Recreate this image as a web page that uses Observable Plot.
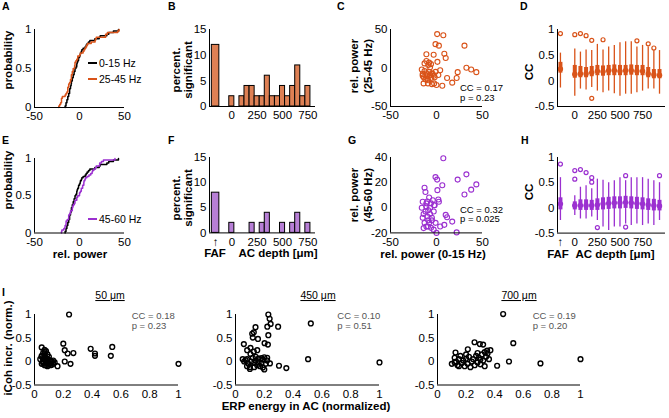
<!DOCTYPE html>
<html><head><meta charset="utf-8">
<script src="https://cdn.jsdelivr.net/npm/d3@7"></script>
<script src="https://cdn.jsdelivr.net/npm/@observablehq/plot@0.6"></script>
<style>
body{margin:0;background:#fff;}
#fig{position:relative;width:669px;height:418px;overflow:hidden;background:#fff;}
#fig svg{position:absolute;}
</style></head><body><div id="fig"></div>
<script>
// ---------------- DATA ----------------
// relative power per site: 0-15 Hz (x of C and G), 25-45 Hz (y of C), 45-60 Hz (y of G)
const powLow  = [0.7,7.4,-1.1,2.6,30.4,-11,-3.1,8.5,10,32.5,37.7,43.3,23,11.5,21.9,17.1,
  -14,-9.3,-2.6,0,6.3,-5,
  -16,-15,-15,-14,-13,-13,-12,-12,-11,-11,-10,-10,-9,-9,-8,-8,-7,-7,-6,-6,-5,-4,-3,-2,-1,1,2,4];
const pow25_45 = [44,42.5,31,29,29,17.8,17.3,18.6,13,0.3,-1.9,-5.4,-5.4,-13,-13,-19,
  -20,-20,-20,-22,-23,-21,
  -2,-10,-8,-12,6,-4,-9,-15,-7,9,-14,-11,4,-16,-5,7,-9,1,-13,5,-7,-8,-10,-12,-5,8,-9,-3];
const pow45_60 = [22.4,39.4,24.4,4.8,10.5,3.5,-17.4,-13.6,-5.7,26.6,14.4,18.6,22.4,-7.5,-19.6,-11,
  -16.2,-14.9,2,-20,17.9,-10,
  0,4.8,-8,-5,15.9,-12,12.5,-3,-15,1,-7,5,-10,-2,8.2,-12,0,-5,-16,3.5,-8,6,-3,2,-12,14,6.6,-14.9];

// percent significant per site (FAF, then AC depths)
const depths = [0,50,100,150,200,250,300,350,400,450,500,550,600,650,700,750];
const sigFAF_25_45 = 12;
const sig25_45 = [2,0,2,4,4,2,2,6,2,2,4,2,4,8,2,4];
const sigFAF_45_60 = 8;
const sig45_60 = [2,0,0,0,2,0,2,4,0,0,2,0,2,4,0,2];

// CC box statistics per site: FAF then 16 depths
const boxSites = ["FAF",0,50,100,150,200,250,300,350,400,450,500,550,600,650,700,750];
const ccD_med = [0.23,0.13,0.14,0.14,0.16,0.19,0.18,0.20,0.20,0.19,0.20,0.20,0.19,0.19,0.14,0.12,0.11];
const ccD_q1  = [0.15,0.05,0.06,0.06,0.08,0.10,0.09,0.10,0.10,0.10,0.10,0.11,0.10,0.10,0.06,0.04,0.04];
const ccD_q3  = [0.36,0.30,0.28,0.26,0.28,0.30,0.29,0.30,0.31,0.30,0.30,0.31,0.30,0.30,0.26,0.22,0.22];
const ccD_lo  = [-0.14,-0.30,-0.16,-0.18,-0.13,-0.20,-0.23,-0.20,-0.25,-0.30,-0.26,-0.26,-0.23,-0.20,-0.16,-0.16,-0.26];
const ccD_hi  = [0.54,0.62,0.56,0.60,0.59,0.71,0.60,0.66,0.69,0.74,0.76,0.76,0.66,0.69,0.66,0.59,0.59];
const ccD_outSite = ["FAF",0,50,100,150,150,250,550,650,700];
const ccD_outVal  = [0.92,0.90,0.92,0.88,0.79,-0.34,0.80,0.78,0.72,0.64];

const ccH_med = [0.08,0.05,0.05,0.05,0.05,0.06,0.08,0.09,0.10,0.10,0.11,0.10,0.09,0.08,0.06,0.05,0.04];
const ccH_q1  = [-0.04,-0.04,-0.05,-0.05,-0.05,-0.05,-0.04,-0.03,-0.02,-0.02,-0.01,-0.02,-0.03,-0.04,-0.05,-0.06,-0.06];
const ccH_q3  = [0.20,0.12,0.16,0.16,0.15,0.18,0.20,0.21,0.22,0.22,0.23,0.22,0.21,0.20,0.18,0.17,0.15];
const ccH_lo  = [-0.25,-0.15,-0.22,-0.22,-0.18,-0.25,-0.38,-0.45,-0.38,-0.38,-0.32,-0.35,-0.32,-0.35,-0.32,-0.35,-0.25];
const ccH_hi  = [0.60,0.24,0.41,0.44,0.38,0.57,0.55,0.50,0.54,0.60,0.54,0.60,0.60,0.60,0.57,0.54,0.50];
const ccH_outSite = ["FAF",0,0,50,100,150,150,200,450,450,750];
const ccH_outVal  = [0.87,0.74,0.57,0.76,0.70,0.60,0.51,-0.39,0.64,-0.38,0.64];

// Panel I: ERP energy (normalized) vs iCoh increase (normalized)
const erp50  = [0.24,0.20,0.21,0.23,0.27,0.21,0.25,0.39,0.42,0.42,0.53,0.54,1.00,
  0.05,0.06,0.07,0.08,0.05,0.06,0.04,0.05,0.07,0.08,0.09,0.10,0.11,0.12,0.13,0.16,0.07,0.09,0.10,0.06,0.08,0.12,0.09,0.06,0.10,0.07,0.11,0.05,0.08,0.13,0.14,0.07,0.09];
const coh50  = [1.00,0.38,0.24,0.17,0.18,0.00,-0.05,0.27,0.17,0.12,0.12,0.31,-0.05,
  0.30,0.18,0.20,0.22,0.10,0.05,0.05,-0.05,-0.08,0.00,0.05,-0.05,0.02,0.00,-0.05,-0.10,0.12,0.15,0.10,-0.03,-0.08,-0.07,-0.10,0.00,0.03,0.05,-0.08,0.12,0.08,0.02,-0.02,0.25,-0.03];
const erp450 = [0.228,0.237,0.244,0.221,0.296,0.139,0.127,0.116,0.12,0.156,0.228,0.202,0.225,0.058,0.081,0.104,0.127,0.151,0.104,0.523,0.504,1.00,0.302,0.353,0.239,
  0.05,0.07,0.08,0.09,0.10,0.10,0.11,0.12,0.13,0.14,0.15,0.16,0.16,0.17,0.18,0.19,0.19,0.20,0.21,0.22,0.20,0.13,0.08,0.06,0.14,0.18,0.22];
const coh450 = [1.00,0.91,0.80,0.74,0.74,0.73,0.62,0.59,0.51,0.48,0.56,0.39,0.36,0.37,0.24,0.29,0.21,0.24,0.16,0.81,0.05,-0.02,-0.09,-0.14,-0.04,
  0.05,0.03,0.05,-0.05,-0.12,-0.16,0.00,0.08,-0.03,0.02,-0.08,-0.02,0.06,-0.10,0.07,-0.13,0.04,0.09,-0.05,0.02,-0.17,-0.12,-0.10,0.00,0.10,-0.04,0.08];
const erp700 = [0.459,0.53,0.259,0.296,0.319,0.37,0.347,0.126,0.212,0.50,0.417,0.72,1.00,
  0.10,0.12,0.13,0.14,0.15,0.16,0.17,0.18,0.19,0.20,0.20,0.21,0.22,0.23,0.24,0.25,0.26,0.27,0.28,0.29,0.30,0.31,0.32,0.33,0.34,0.35,0.36,0.33,0.28,0.30,0.15,0.12];
const coh700 = [1.01,0.39,0.41,0.37,0.36,0.24,0.23,0.19,0.26,0.00,-0.09,-0.04,0.05,
  -0.05,0.08,0.00,-0.08,0.05,0.12,-0.03,0.02,-0.10,0.15,0.06,-0.05,0.10,-0.12,0.00,0.05,-0.08,0.12,-0.02,0.08,-0.06,0.15,0.02,-0.10,0.10,0.17,0.05,0.20,0.18,0.04,-0.10,-0.02];

const statsC = ["CC = 0.17","p = 0.23"], statsG = ["CC = 0.32","p = 0.025"];
const statsI = [["CC = 0.18","p = 0.23"],["CC = 0.10","p = 0.51"],["CC = 0.19","p = 0.20"]];
const titlesI = ["50 \u03bcm","450 \u03bcm","700 \u03bcm"];

// ---------------- DRAWING ----------------
const ORANGE="#D95319", ORANGE_BAR="#DE8054", PURPLE="#9B30D0", PURPLE_BAR="#B77FD6";
const FONT = "'Liberation Sans', Arial, sans-serif";
const fig = document.getElementById("fig");
const fmt = d => (d < 0 ? "-" : "") + Math.abs(d);
const FAF_BAR = -160, FAF_BOX = -127;

function panel(o){
  const ml=o.ml??40, mr=o.mr??8, mt=o.mt??8, mb=o.mb??24;
  const w=o.x1-o.x0, h=o.y1-o.y0;
  const svg = Plot.plot({
    width:w+ml+mr, height:h+mt+mb, marginLeft:ml, marginRight:mr, marginTop:mt, marginBottom:mb,
    x:{domain:o.xd}, y:{domain:o.yd},
    style:{fontFamily:FONT, fontSize:"11.5px", color:"#000", background:"none", overflow:"visible"},
    marks:[
      ...o.marks,
      Plot.ruleX([o.xd[0]],{stroke:"#000",strokeWidth:1}),
      Plot.ruleY([o.yd[0]],{stroke:"#000",strokeWidth:1}),
      Plot.axisX({ticks:o.xt, tickFormat:o.xf??fmt, tickSize:0, tickPadding:4.5, label:null}),
      Plot.axisY({ticks:o.yt, tickFormat:o.yf??fmt, tickSize:0, tickPadding:3, label:null})
    ]
  });
  svg.style.left=(o.x0-ml)+"px"; svg.style.top=(o.y0-mt)+"px";
  fig.appendChild(svg);
}

function ecdf(vals){
  const s=[...vals].sort((a,b)=>a-b), n=s.length;
  const pts=[{x:s[0],y:0}];
  s.forEach((v,i)=>pts.push({x:v,y:(i+1)/n}));
  return pts;
}
function bars(faf, vals){
  const rows=[{x1:FAF_BAR-37,x2:FAF_BAR+37,y:faf}];
  depths.forEach((d,i)=>{ if(vals[i]>0) rows.push({x1:d-25,x2:d+25,y:vals[i]}); });
  return rows;
}
const sitePos = s => s==="FAF" ? FAF_BOX : s;
function boxMarks(med,q1,q3,lo,hi,outS,outV,color){
  const rows=boxSites.map((s,i)=>({x:sitePos(s),med:med[i],q1:q1[i],q3:q3[i],lo:lo[i],hi:hi[i]}));
  const outs=outS.map((s,i)=>({x:sitePos(s),y:outV[i]}));
  return [
    Plot.ruleX(rows,{x:"x",y1:"lo",y2:"hi",stroke:color,strokeWidth:1.3}),
    Plot.ruleX(rows,{x:"x",y1:"q1",y2:"q3",stroke:color,strokeWidth:4}),
    Plot.dot(rows,{x:"x",y:"med",r:2.7,fill:color,stroke:"none"}),
    Plot.dot(outs,{x:"x",y:"y",r:2,fill:"none",stroke:color,strokeWidth:1.2})
  ];
}
const pairs=(a,b)=>a.map((v,i)=>({x:v,y:b[i]}));

// A
panel({x0:34,x1:124,y0:29,y1:107,xd:[-50,50],yd:[0,1],xt:[-50,0,50],yt:[0,0.5,1],marks:[
  Plot.line(ecdf(powLow),{x:"x",y:"y",curve:"step-after",stroke:"#000",strokeWidth:1.5}),
  Plot.line(ecdf(pow25_45),{x:"x",y:"y",curve:"step-after",stroke:ORANGE,strokeWidth:1.5})
]});
// E
panel({x0:34,x1:124,y0:157.5,y1:232,xd:[-50,50],yd:[0,1],xt:[-50,0,50],yt:[0,0.5,1],marks:[
  Plot.line(ecdf(powLow),{x:"x",y:"y",curve:"step-after",stroke:"#000",strokeWidth:1.5}),
  Plot.line(ecdf(pow45_60),{x:"x",y:"y",curve:"step-after",stroke:PURPLE,strokeWidth:1.5})
]});
// B
panel({x0:209,x1:315,y0:29,y1:106,xd:[-220,825],yd:[0,15],xt:[0,250,500,750],yt:[0,5,10,15],marks:[
  Plot.rectY(bars(sigFAF_25_45,sig25_45),{x1:"x1",x2:"x2",y:"y",fill:ORANGE_BAR,stroke:"#000",strokeWidth:1})
]});
// F
panel({x0:209,x1:315,y0:157.3,y1:232.7,xd:[-220,825],yd:[0,15],xt:[FAF_BAR,0,250,500,750],
  xf:d=>d===FAF_BAR?"\u2191":fmt(d),yt:[0,5,10,15],marks:[
  Plot.rectY(bars(sigFAF_45_60,sig45_60),{x1:"x1",x2:"x2",y:"y",fill:PURPLE_BAR,stroke:"#000",strokeWidth:1})
]});
// C
panel({x0:390,x1:482,y0:29,y1:106,xd:[-50,50],yd:[-50,50],xt:[-50,0,50],yt:[-50,0,50],marks:[
  Plot.dot(pairs(powLow,pow25_45),{x:"x",y:"y",r:2.5,stroke:ORANGE,strokeWidth:1.1,fill:"none"})
]});
// G
panel({x0:390,x1:482,y0:157.3,y1:232.7,xd:[-50,50],yd:[-20,40],xt:[-50,0,50],yt:[-20,0,20,40],marks:[
  Plot.dot(pairs(powLow,pow45_60),{x:"x",y:"y",r:2.5,stroke:PURPLE,strokeWidth:1.1,fill:"none"})
]});
// D
const boxTickLabels = {0:"0",200:"250",400:"500",600:"750"};
panel({x0:557,x1:665,y0:29,y1:106,xd:[-153,803],yd:[-0.5,1],xt:[0,200,400,600],xf:d=>boxTickLabels[d],
  yt:[-0.5,0,0.5,1],mr:4,marks:boxMarks(ccD_med,ccD_q1,ccD_q3,ccD_lo,ccD_hi,ccD_outSite,ccD_outVal,ORANGE)});
// H
panel({x0:557,x1:665,y0:156.7,y1:232.3,xd:[-153,803],yd:[-0.5,1],xt:[FAF_BOX,0,200,400,600],
  xf:d=>d===FAF_BOX?"\u2191":boxTickLabels[d],
  yt:[-0.5,0,0.5,1],mr:4,marks:boxMarks(ccH_med,ccH_q1,ccH_q3,ccH_lo,ccH_hi,ccH_outSite,ccH_outVal,PURPLE)});
// I
const iX=[[34,178],[235,379],[437,580]];
[[erp50,coh50],[erp450,coh450],[erp700,coh700]].forEach(([a,b],k)=>{
  panel({x0:iX[k][0],x1:iX[k][1],y0:314,y1:384.5,xd:[0,1],yd:[-0.5,1],xt:[0,0.2,0.4,0.6,0.8,1],yt:[-0.5,0,0.5,1],
    marks:[Plot.dot(pairs(a,b),{x:"x",y:"y",r:2.4,stroke:"#000",strokeWidth:1.4,fill:"none"})]});
});

// ---------------- TEXT OVERLAY ----------------
const ov = d3.select(fig).append("svg").attr("width",669).attr("height",418)
  .style("left","0px").style("top","0px").style("font-family",FONT);
function txt(x,y,s,o={}){
  const t=ov.append("text").attr("x",0).attr("y",0).text(s)
    .attr("font-size",o.size||11).attr("font-weight",o.bold?"bold":"normal")
    .attr("text-anchor",o.anchor||"start").attr("fill",o.fill||"#000")
    .attr("transform",`translate(${x},${y})`+(o.rot?" rotate(-90)":""));
  if(o.under) t.style("text-decoration","underline");
  return t;
}
// panel letters
[["A",2,10],["B",168,10],["C",337,10],["D",520,10],["E",2,144],["F",168,144],["G",348,144],["H",521,144],["I",2,296]]
  .forEach(([s,x,y])=>txt(x,y,s,{bold:true,size:10.5}));
// y labels
txt(12,60,"probability",{bold:true,rot:true,anchor:"middle",size:11.5});
txt(12,180,"probability",{bold:true,rot:true,anchor:"middle",size:11.5});
[[70],[198]].forEach(([cy])=>{
  txt(180,cy,"percent.",{bold:true,rot:true,anchor:"middle",size:11.5});
  txt(192,cy,"significant",{bold:true,rot:true,anchor:"middle",size:11.5});
});
txt(358,66,"rel. power",{bold:true,rot:true,anchor:"middle",size:11.5});
txt(372,66,"(25-45 Hz)",{bold:true,rot:true,anchor:"middle",size:11.5});
txt(358,195,"rel. power",{bold:true,rot:true,anchor:"middle",size:11.5});
txt(372,195,"(45-60 Hz)",{bold:true,rot:true,anchor:"middle",size:11.5});
txt(533,72,"CC",{bold:true,rot:true,anchor:"middle",size:11.5});
txt(533,192,"CC",{bold:true,rot:true,anchor:"middle",size:11.5});
txt(12,348,"iCoh incr. (norm.)",{bold:true,rot:true,anchor:"middle",size:11.5});
// x labels
txt(80,258,"rel. power",{bold:true,anchor:"middle",size:11.5});
txt(215,257,"FAF",{bold:true,anchor:"middle",size:11.5});
txt(278,257,"AC depth [\u03bcm]",{bold:true,anchor:"middle",size:11.5});
txt(433,258,"rel. power (0-15 Hz)",{bold:true,anchor:"middle",size:11.5});
txt(558,258,"FAF",{bold:true,anchor:"middle",size:11.5});
txt(615,258,"AC depth [\u03bcm]",{bold:true,anchor:"middle",size:11.5});
txt(306,410,"ERP energy in AC (normalized)",{bold:true,anchor:"middle",size:11.5});
// legends
ov.append("line").attr("x1",88).attr("x2",97).attr("y1",63).attr("y2",63).attr("stroke","#000").attr("stroke-width",2);
txt(99,67,"0-15 Hz",{size:10.5});
ov.append("line").attr("x1",88).attr("x2",97).attr("y1",79).attr("y2",79).attr("stroke",ORANGE).attr("stroke-width",2);
txt(99,83,"25-45 Hz",{size:10.5});
ov.append("line").attr("x1",88).attr("x2",97).attr("y1",219).attr("y2",219).attr("stroke",PURPLE).attr("stroke-width",2);
txt(99,223,"45-60 Hz",{size:10.5});
// stats
txt(460,91,statsC[0],{size:9.5}); txt(460,100.5,statsC[1],{size:9.5});
txt(460,212.5,statsG[0],{size:9.5}); txt(460,222,statsG[1],{size:9.5});
[131.7,337.3,532.7].forEach((x,k)=>{
  txt(x,319,statsI[k][0],{size:9.5,fill:"#555"});
  txt(x,328.5,statsI[k][1],{size:9.5,fill:"#555"});
});
[110,318,519].forEach((x,k)=>txt(x,299,titlesI[k],{size:10.5,anchor:"middle",under:true}));
</script></body></html>
